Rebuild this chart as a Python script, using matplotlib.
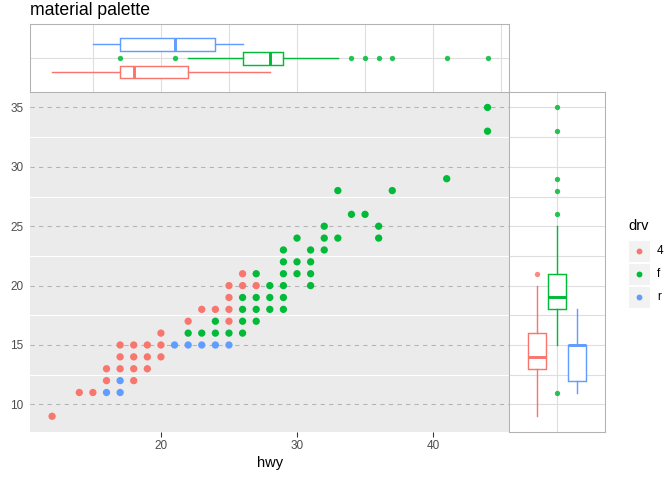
import matplotlib
matplotlib.use('Agg')
import matplotlib.pyplot as plt
from matplotlib.patches import Rectangle

plt.rcParams['font.family'] = ['Liberation Sans', 'DejaVu Sans']

# ---------------- data ----------------
drv_levels = ['4', 'f', 'r']
drv_colors = ['#F8766D', '#00BA38', '#619CFF']

hwy_4 = [12, 14, 15, 16, 18, 16, 17, 18, 19, 17, 18, 19, 20, 17, 18, 19, 20,
         20, 22, 25, 23, 24, 25, 25, 25, 26, 27, 26]
cty_4 = [9, 11, 11, 12, 12, 13, 13, 13, 13, 14, 14, 14, 14, 15, 15, 15, 15,
         16, 17, 17, 18, 18, 18, 19, 20, 20, 20, 21]

hwy_f = [22, 23, 24, 25, 26, 24, 26, 27, 26, 27, 28, 29, 26, 27, 28, 29, 28, 29,
         31, 27, 29, 30, 31, 29, 30, 31, 29, 31, 32, 30, 32, 33, 36, 32, 36, 34,
         35, 33, 37, 41, 44, 44]
cty_f = [16, 16, 16, 16, 16, 17, 17, 17, 18, 18, 18, 18, 19, 19, 19, 19, 20, 20,
         20, 21, 21, 21, 21, 22, 22, 22, 23, 23, 23, 24, 24, 24, 24, 25, 25, 26,
         26, 28, 28, 29, 33, 35]

hwy_r = [16, 17, 17, 21, 22, 23, 24, 25]
cty_r = [11, 11, 12, 15, 15, 15, 15, 15]

# boxplot summaries: [lower whisker, Q1, median, Q3, upper whisker]
hwy_box_4 = [12, 17, 18, 22, 28]
hwy_box_f = [22, 26, 28, 29, 33]
hwy_box_r = [15, 17, 21, 24, 26]
hwy_out_4 = []
hwy_out_f = [17, 21, 34, 35, 36, 37, 41, 44]
hwy_out_r = []

cty_box_4 = [9, 13, 14, 16, 20]
cty_box_f = [15, 18, 19, 21, 25]
cty_box_r = [11, 12, 15, 15, 18]
cty_out_4 = [21]
cty_out_f = [11, 26, 28, 29, 33, 35]
cty_out_r = []

x_ticks = [20, 30, 40]
y_ticks = [10, 15, 20, 25, 30, 35]

title_text = 'material palette'
x_label = 'hwy'
legend_title = 'drv'

# ---------------- figure ----------------
W, H = 672, 480
fig = plt.figure(figsize=(7, 5), dpi=96)


def fa(x0, y0, x1, y1):
    return [x0 / W, 1 - y1 / H, (x1 - x0) / W, (y1 - y0) / H]


ax = fig.add_axes(fa(30.3, 92, 509.3, 431.7))
axt = fig.add_axes(fa(30.3, 24.3, 509.3, 92))
axr = fig.add_axes(fa(509.3, 92, 605.3, 431.7))

xlim = (10.4, 45.6)
ylim = (7.7, 36.3)

# main panel
ax.set_facecolor('#EBEBEB')
for s in ax.spines.values():
    s.set_visible(False)
for y in y_ticks:
    ax.axhline(y, color='#B3B3B3', lw=0.8, dashes=(4, 4), zorder=1)
for y in [12.5, 17.5, 22.5, 27.5, 32.5]:
    ax.axhline(y, color='white', lw=0.8, zorder=1)

hwys = [hwy_4, hwy_f, hwy_r]
ctys = [cty_4, cty_f, cty_r]
for hv, cv, col in zip(hwys, ctys, drv_colors):
    ax.scatter(hv, cv, s=30, color=col, edgecolors='none', zorder=3)

ax.set_xlim(*xlim)
ax.set_ylim(*ylim)
ax.set_xticks(x_ticks)
ax.set_yticks(y_ticks)
ax.tick_params(axis='x', length=3.7, width=0.8, color='#333333', pad=2.2,
               labelsize=8.8, labelcolor='#4D4D4D')
ax.tick_params(axis='y', length=0, pad=5.0, labelsize=8.8, labelcolor='#4D4D4D')
ax.set_xlabel(x_label, fontsize=11, color='black', labelpad=3)

grid_col = '#DEDEDE'
border_col = '#B3B3B3'
box_lw = 1.07

hwy_boxes = [hwy_box_4, hwy_box_f, hwy_box_r]
hwy_outs = [hwy_out_4, hwy_out_f, hwy_out_r]
cty_boxes = [cty_box_4, cty_box_f, cty_box_r]
cty_outs = [cty_out_4, cty_out_f, cty_out_r]


def draw_boxes(a, boxes, outs, orientation, width):
    for i, (b, o, col) in enumerate(zip(boxes, outs, drv_colors)):
        st = dict(whislo=b[0], q1=b[1], med=b[2], q3=b[3], whishi=b[4], fliers=o)
        a.bxp([st], positions=[i], widths=width, orientation=orientation,
              patch_artist=True, showcaps=False, manage_ticks=False,
              boxprops=dict(facecolor='white', edgecolor=col, linewidth=box_lw),
              whiskerprops=dict(color=col, linewidth=box_lw),
              medianprops=dict(color=col, linewidth=2.2),
              flierprops=dict(marker='o', markerfacecolor=col, markeredgecolor='none',
                              markersize=4.0, alpha=0.85),
              zorder=3)


# top marginal (hwy)
axt.set_facecolor('white')
draw_boxes(axt, hwy_boxes, hwy_outs, 'horizontal', 0.93)
axt.set_xlim(*xlim)
axt.set_ylim(-1.44, 3.44)
axt.set_xticks([15, 20, 25, 30, 35, 40, 45])
axt.set_yticks([1])
axt.grid(True, color=grid_col, lw=0.8, zorder=0)
axt.set_axisbelow(True)
axt.tick_params(length=0, labelbottom=False, labelleft=False)
for s in axt.spines.values():
    s.set_color(border_col)
    s.set_linewidth(0.8)

# right marginal (cty)
axr.set_facecolor('white')
draw_boxes(axr, cty_boxes, cty_outs, 'vertical', 0.9)
axr.set_ylim(*ylim)
axr.set_xlim(-1.4, 3.4)
axr.set_yticks([10, 12.5, 15, 17.5, 20, 22.5, 25, 27.5, 30, 32.5, 35])
axr.set_xticks([1])
axr.grid(True, color=grid_col, lw=0.8, zorder=0)
axr.set_axisbelow(True)
axr.tick_params(length=0, labelbottom=False, labelleft=False)
for s in axr.spines.values():
    s.set_color(border_col)
    s.set_linewidth(0.8)

# title
fig.text(30.3 / W, 1 - 15 / H, title_text, fontsize=13.2, color='black',
         ha='left', va='baseline')

# legend (manual, pixel coordinates)
lax = fig.add_axes([0, 0, 1, 1])
lax.set_xlim(0, W)
lax.set_ylim(H, 0)
lax.axis('off')
lax.patch.set_alpha(0)
lax.text(628, 230, legend_title, fontsize=11, ha='left', va='baseline')
key_centers = [250.7, 273.7, 296.7]
for lab, col, yc in zip(drv_levels, drv_colors, key_centers):
    lax.add_patch(Rectangle((628, yc - 10.8), 22, 21.6, facecolor='#F2F2F2',
                            edgecolor='white', lw=0.8))
    lax.plot([639], [yc], marker='o', markersize=4.4, color=col, markeredgecolor='none')
    lax.text(657, yc, lab, fontsize=8.8, ha='left', va='center', color='black')

fig.savefig('out.png', dpi=96)
